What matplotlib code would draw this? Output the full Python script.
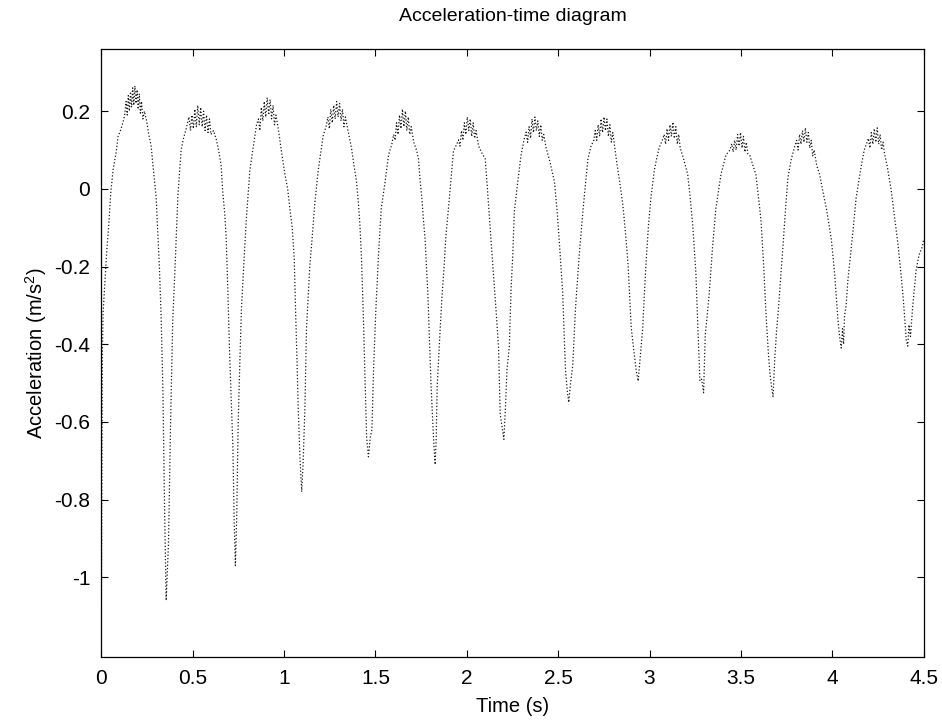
import numpy as np
import matplotlib
matplotlib.use("Agg")
import matplotlib.pyplot as plt
from matplotlib.ticker import FormatStrFormatter

# values
time_s = [
    0.000, 0.003, 0.006, 0.010, 0.020, 0.030, 0.040, 0.052, 0.065, 0.080, 0.092, 0.105, 0.118, 0.128,
    0.136, 0.142, 0.148, 0.154, 0.160, 0.166, 0.172, 0.178, 0.184, 0.190, 0.196, 0.202, 0.208, 0.214, 0.220, 0.228, 0.236,
    0.248, 0.260, 0.273, 0.285, 0.300, 0.310, 0.318, 0.327, 0.337, 0.346, 0.355,
    0.362, 0.368, 0.379, 0.391, 0.404, 0.419, 0.437, 0.450, 0.462,
    0.472, 0.480, 0.488, 0.496, 0.504, 0.512, 0.520, 0.528, 0.536, 0.544, 0.552, 0.560, 0.568, 0.576, 0.584, 0.592, 0.600,
    0.614, 0.628, 0.642, 0.656, 0.665, 0.675, 0.683, 0.692, 0.702, 0.712, 0.720, 0.727, 0.734,
    0.741, 0.749, 0.758, 0.767, 0.785, 0.795, 0.813, 0.831, 0.850,
    0.860, 0.868, 0.876, 0.884, 0.892, 0.900, 0.908, 0.916, 0.924, 0.932, 0.940, 0.948, 0.956,
    0.968, 0.985, 1.005, 1.020, 1.032, 1.045, 1.056, 1.063, 1.071, 1.078, 1.088, 1.097,
    1.105, 1.114, 1.123, 1.141, 1.155, 1.168, 1.187, 1.200, 1.214, 1.230,
    1.240, 1.248, 1.256, 1.264, 1.272, 1.280, 1.288, 1.296, 1.304, 1.312, 1.320, 1.328, 1.336,
    1.350, 1.369, 1.383, 1.397, 1.406, 1.415, 1.424, 1.433, 1.443, 1.452, 1.462,
    1.472, 1.481, 1.490, 1.502, 1.517, 1.532, 1.553, 1.572, 1.590,
    1.600, 1.608, 1.616, 1.624, 1.632, 1.640, 1.648, 1.656, 1.664, 1.672, 1.680, 1.688, 1.696,
    1.710, 1.725, 1.736, 1.745, 1.754, 1.763, 1.772, 1.787, 1.797, 1.805, 1.818, 1.827,
    1.833, 1.838, 1.850, 1.864, 1.876, 1.886, 1.900, 1.909, 1.927, 1.945,
    1.955, 1.963, 1.971, 1.979, 1.987, 1.995, 2.003, 2.011, 2.019, 2.027, 2.035, 2.043, 2.051,
    2.065, 2.085, 2.101, 2.110, 2.119, 2.132, 2.146, 2.160, 2.174, 2.183, 2.195, 2.203,
    2.212, 2.220, 2.233, 2.243, 2.251, 2.260, 2.279, 2.297, 2.315,
    2.325, 2.333, 2.341, 2.349, 2.357, 2.365, 2.373, 2.381, 2.389, 2.397, 2.405, 2.413, 2.421,
    2.434, 2.455, 2.480, 2.495, 2.507, 2.525, 2.540, 2.550, 2.558,
    2.568, 2.580, 2.595, 2.617, 2.639, 2.663, 2.680, 2.695,
    2.703, 2.711, 2.719, 2.727, 2.735, 2.743, 2.751, 2.759, 2.767, 2.775, 2.783, 2.791, 2.799,
    2.818, 2.836, 2.854, 2.868, 2.882, 2.900, 2.915, 2.928, 2.938,
    2.950, 2.963, 2.972, 2.981, 2.995, 3.008, 3.026, 3.040, 3.053, 3.070,
    3.080, 3.088, 3.096, 3.104, 3.112, 3.120, 3.128, 3.136, 3.144, 3.152, 3.160, 3.168,
    3.185, 3.209, 3.222, 3.236, 3.254, 3.263, 3.276, 3.285, 3.296,
    3.305, 3.315, 3.327, 3.345, 3.363, 3.391, 3.418, 3.440,
    3.450, 3.458, 3.466, 3.474, 3.482, 3.490, 3.498, 3.506, 3.514, 3.522, 3.530, 3.538,
    3.550, 3.566, 3.582, 3.596, 3.610, 3.625, 3.637, 3.650, 3.659, 3.668, 3.676,
    3.685, 3.695, 3.707, 3.719, 3.730, 3.743, 3.757, 3.776, 3.795,
    3.805, 3.813, 3.821, 3.829, 3.837, 3.845, 3.853, 3.861, 3.869, 3.877, 3.885, 3.893, 3.901,
    3.915, 3.931, 3.950, 3.968, 3.995, 4.013, 4.031, 4.040, 4.049,
    4.056, 4.062, 4.067, 4.076, 4.085, 4.100, 4.113, 4.131, 4.158, 4.175, 4.190,
    4.198, 4.206, 4.214, 4.222, 4.230, 4.238, 4.246, 4.254, 4.262, 4.270, 4.278, 4.286,
    4.300, 4.322, 4.340, 4.359, 4.372, 4.386, 4.396, 4.405, 4.413, 4.420, 4.428, 4.441, 4.459, 4.475, 4.492, 4.500,
]
accel = [
    -1.17, -0.75, -0.42, -0.32, -0.24, -0.16, -0.10, -0.01, 0.05, 0.09, 0.135, 0.15, 0.17, 0.19,
    0.225, 0.19, 0.24, 0.20, 0.25, 0.21, 0.26, 0.215, 0.265, 0.22, 0.255, 0.205, 0.245, 0.195, 0.225, 0.18, 0.20,
    0.175, 0.14, 0.11, 0.05, -0.02, -0.12, -0.20, -0.32, -0.51, -0.81, -1.06,
    -0.98, -0.91, -0.61, -0.34, -0.20, -0.02, 0.10, 0.13, 0.15,
    0.17, 0.185, 0.15, 0.19, 0.155, 0.205, 0.16, 0.215, 0.165, 0.21, 0.16, 0.20, 0.15, 0.19, 0.145, 0.18, 0.14,
    0.15, 0.13, 0.10, 0.06, -0.01, -0.06, -0.12, -0.25, -0.42, -0.55, -0.66, -0.85, -0.97,
    -0.85, -0.61, -0.45, -0.31, -0.15, -0.07, 0.047, 0.106, 0.166,
    0.18, 0.15, 0.21, 0.175, 0.225, 0.185, 0.235, 0.19, 0.23, 0.18, 0.215, 0.165, 0.19,
    0.156, 0.10, 0.037, 0.0, -0.051, -0.10, -0.18, -0.31, -0.44, -0.57, -0.70, -0.78,
    -0.70, -0.57, -0.36, -0.20, -0.12, -0.04, 0.047, 0.09, 0.136, 0.16,
    0.185, 0.155, 0.205, 0.17, 0.215, 0.18, 0.225, 0.185, 0.22, 0.175, 0.205, 0.16, 0.185,
    0.15, 0.106, 0.06, 0.018, -0.03, -0.09, -0.18, -0.31, -0.48, -0.64, -0.69,
    -0.64, -0.62, -0.465, -0.317, -0.17, -0.051, 0.018, 0.087, 0.115,
    0.14, 0.125, 0.17, 0.14, 0.19, 0.155, 0.205, 0.16, 0.20, 0.15, 0.185, 0.14, 0.16,
    0.12, 0.10, 0.077, 0.02, -0.022, -0.08, -0.13, -0.27, -0.40, -0.51, -0.64, -0.71,
    -0.64, -0.51, -0.40, -0.28, -0.20, -0.12, -0.05, 0.0, 0.097, 0.115,
    0.126, 0.11, 0.15, 0.125, 0.17, 0.14, 0.185, 0.15, 0.18, 0.135, 0.17, 0.13, 0.15,
    0.11, 0.09, 0.077, 0.02, -0.041, -0.13, -0.22, -0.31, -0.41, -0.58, -0.62, -0.645,
    -0.56, -0.465, -0.406, -0.25, -0.18, -0.06, 0.018, 0.087, 0.13,
    0.146, 0.12, 0.16, 0.13, 0.18, 0.145, 0.185, 0.15, 0.175, 0.135, 0.165, 0.125, 0.14,
    0.106, 0.07, 0.018, -0.06, -0.14, -0.268, -0.465, -0.52, -0.55,
    -0.50, -0.455, -0.307, -0.16, -0.04, 0.077, 0.11, 0.125,
    0.15, 0.125, 0.165, 0.135, 0.18, 0.145, 0.185, 0.15, 0.18, 0.135, 0.165, 0.12, 0.145,
    0.077, 0.02, -0.04, -0.11, -0.19, -0.357, -0.42, -0.47, -0.495,
    -0.43, -0.357, -0.27, -0.19, -0.09, -0.022, 0.047, 0.08, 0.106, 0.125,
    0.14, 0.115, 0.155, 0.125, 0.165, 0.135, 0.172, 0.13, 0.16, 0.115, 0.14, 0.105,
    0.08, 0.037, -0.02, -0.09, -0.219, -0.337, -0.495, -0.49, -0.525,
    -0.376, -0.33, -0.268, -0.15, -0.051, 0.037, 0.087, 0.10,
    0.116, 0.095, 0.125, 0.10, 0.14, 0.11, 0.145, 0.105, 0.135, 0.095, 0.12, 0.09,
    0.085, 0.06, 0.037, -0.02, -0.081, -0.20, -0.317, -0.42, -0.475, -0.51, -0.535,
    -0.44, -0.367, -0.30, -0.219, -0.15, -0.061, 0.028, 0.077, 0.11,
    0.125, 0.10, 0.14, 0.115, 0.15, 0.12, 0.157, 0.12, 0.145, 0.105, 0.125, 0.085, 0.10,
    0.06, 0.037, -0.01, -0.051, -0.13, -0.219, -0.337, -0.38, -0.41,
    -0.36, -0.40, -0.327, -0.30, -0.238, -0.17, -0.11, -0.022, 0.057, 0.10, 0.12,
    0.13, 0.105, 0.145, 0.115, 0.155, 0.12, 0.157, 0.115, 0.14, 0.10, 0.12, 0.09,
    0.06, -0.002, -0.07, -0.14, -0.20, -0.268, -0.33, -0.39, -0.405, -0.35, -0.38, -0.298, -0.209, -0.17, -0.15, -0.13,
]

x_ticks = [0, 0.5, 1, 1.5, 2, 2.5, 3, 3.5, 4, 4.5]
y_ticks = [-1, -0.8, -0.6, -0.4, -0.2, 0, 0.2]

plt.rcParams['font.family'] = ['Liberation Sans', 'DejaVu Sans']
plt.rcParams['mathtext.default'] = 'regular'
plt.rcParams['axes.unicode_minus'] = False

fig = plt.figure(figsize=(9.42, 7.21), dpi=100)
ax = fig.add_axes([0.1075, 0.089, 0.873, 0.843])

ax.plot(time_s, accel, color='#1a1a1a', linestyle=':', linewidth=0.9)

ax.set_xlim(0, 4.5)
ax.set_ylim(-1.205, 0.36)
ax.set_xticks(x_ticks)
ax.set_yticks(y_ticks)
ax.xaxis.set_major_formatter(FormatStrFormatter('%g'))
ax.yaxis.set_major_formatter(FormatStrFormatter('%g'))
ax.tick_params(direction='in', length=5, width=0.8, labelsize=15,
               top=True, right=True)
ax.tick_params(axis='x', pad=9)
ax.tick_params(axis='y', pad=8)
for s in ax.spines.values():
    s.set_linewidth(0.9)

ax.set_title('Acceleration-time diagram', fontsize=14, pad=20)
ax.set_xlabel('Time (s)', fontsize=14.5, labelpad=6)
ax.set_ylabel('Acceleration (m/s$^2$)', fontsize=14.5, labelpad=4)

fig.savefig('out.png', dpi=100)
